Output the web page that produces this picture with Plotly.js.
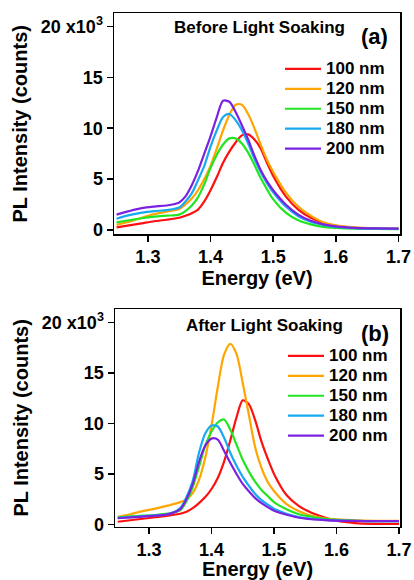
<!DOCTYPE html>
<html>
<head>
<meta charset="utf-8">
<script src="https://cdn.plot.ly/plotly-3.0.1.min.js"></script>
<style>html,body{margin:0;padding:0;background:#fff}#chart{width:414px;height:580px}</style>
</head>
<body>
<div id="chart"></div>
<script>
// Photon energy (eV)
const energy = [1.25, 1.27, 1.29, 1.31, 1.33, 1.35, 1.36, 1.37, 1.38, 1.39, 1.40, 1.41, 1.42, 1.43, 1.44, 1.45, 1.46, 1.47, 1.48, 1.49, 1.50, 1.52, 1.54, 1.56, 1.58, 1.60, 1.63, 1.66, 1.70];
const thicknesses = ['100 nm', '120 nm', '150 nm', '180 nm', '200 nm'];
const colors = ['#ff1010', '#ffa500', '#22e522', '#18aaf0', '#7b22e0'];

// PL intensity (x10^3 counts) - before light soaking
const before100 = [0.25, 0.45, 0.65, 0.85, 1.0, 1.2, 1.4, 1.65, 2.0, 2.8, 3.9, 5.2, 6.6, 7.7, 8.6, 9.3, 9.4, 8.9, 8.0, 6.6, 5.3, 3.3, 2.0, 1.2, 0.7, 0.4, 0.2, 0.13, 0.1];
const before120 = [0.5, 0.8, 1.2, 1.55, 1.8, 2.05, 2.5, 3.1, 3.9, 5.0, 6.3, 8.0, 9.8, 11.3, 12.3, 12.3, 11.4, 10.0, 8.4, 6.9, 5.7, 3.7, 2.3, 1.4, 0.75, 0.45, 0.25, 0.15, 0.12];
const before150 = [0.75, 0.95, 1.15, 1.3, 1.4, 1.5, 1.85, 2.4, 3.2, 4.5, 6.1, 7.4, 8.4, 9.0, 9.0, 8.5, 7.6, 6.4, 5.1, 4.0, 3.0, 1.7, 0.95, 0.55, 0.3, 0.2, 0.12, 0.1, 0.08];
const before180 = [1.1, 1.45, 1.7, 1.85, 1.95, 2.2, 2.8, 3.6, 4.9, 6.3, 8.2, 9.8, 11.1, 11.4, 10.8, 9.8, 8.5, 7.0, 5.7, 4.6, 3.7, 2.3, 1.35, 0.8, 0.5, 0.3, 0.18, 0.13, 0.1];
const before200 = [1.5, 1.85, 2.15, 2.3, 2.4, 2.7, 3.3, 4.4, 5.8, 7.5, 9.2, 11.1, 12.7, 12.6, 11.6, 10.3, 8.9, 7.3, 5.9, 4.8, 3.9, 2.5, 1.5, 0.9, 0.55, 0.35, 0.2, 0.15, 0.12];

// PL intensity (x10^3 counts) - after light soaking
const after100 = [0.25, 0.4, 0.55, 0.7, 0.85, 1.05, 1.25, 1.6, 2.1, 2.7, 3.5, 4.6, 6.2, 8.3, 10.6, 12.3, 11.9, 10.3, 8.2, 6.5, 5.0, 2.9, 1.8, 1.15, 0.7, 0.35, 0.12, 0.05, 0.03];
const after120 = [0.75, 1.0, 1.3, 1.55, 1.85, 2.2, 2.5, 3.1, 4.4, 6.6, 9.8, 13.6, 16.8, 17.9, 16.9, 14.0, 10.8, 7.6, 5.6, 4.2, 3.3, 2.0, 1.3, 0.85, 0.6, 0.5, 0.4, 0.35, 0.33];
const after150 = [0.7, 0.78, 0.85, 0.92, 1.05, 1.4, 2.3, 3.7, 5.7, 7.8, 9.2, 10.1, 10.4, 9.4, 7.9, 6.4, 5.2, 4.2, 3.4, 2.8, 2.2, 1.5, 1.0, 0.75, 0.55, 0.45, 0.35, 0.32, 0.3];
const after180 = [0.65, 0.72, 0.8, 0.88, 1.0, 1.6, 2.7, 4.3, 7.1, 9.0, 9.8, 9.7, 8.6, 7.1, 5.8, 4.7, 3.8, 3.0, 2.4, 1.95, 1.55, 1.05, 0.72, 0.55, 0.45, 0.38, 0.33, 0.3, 0.3];
const after200 = [0.6, 0.68, 0.76, 0.85, 0.98, 1.5, 2.5, 4.0, 6.2, 7.8, 8.5, 8.4, 7.3, 6.1, 5.0, 4.0, 3.25, 2.6, 2.1, 1.7, 1.35, 0.95, 0.65, 0.5, 0.42, 0.36, 0.33, 0.32, 0.32];

const yTickVals = [0, 5, 10, 15, 20];
const yTickText = ['0', '5', '10', '15', '20 x10<sup>3</sup>'];
const xTickVals = [1.3, 1.4, 1.5, 1.6, 1.7];

const beforeSeries = [before100, before120, before150, before180, before200];
const afterSeries = [after100, after120, after150, after180, after200];

const FONT = 'Liberation Sans, Arial, Helvetica, sans-serif';
const traces = [];
beforeSeries.forEach((ys, i) => traces.push({
  x: energy, y: ys, type: 'scatter', mode: 'lines',
  name: '<span style="font-size:17px">' + thicknesses[i] + '</span>',
  line: {color: colors[i], width: 2.2, shape: 'spline', smoothing: 0.8},
  xaxis: 'x', yaxis: 'y', legend: 'legend'
}));
afterSeries.forEach((ys, i) => traces.push({
  x: energy, y: ys, type: 'scatter', mode: 'lines',
  name: '<span style="font-size:17px">' + thicknesses[i] + '</span>',
  line: {color: colors[i], width: 2.2, shape: 'spline', smoothing: 0.8},
  xaxis: 'x2', yaxis: 'y2', legend: 'legend2'
}));

function xAxis(domain, range, anchor) {
  return {
    domain: domain, range: range, anchor: anchor,
    tickvals: xTickVals, ticktext: xTickVals.map(v => v.toFixed(1)),
    ticks: 'outside', ticklen: 6, tickwidth: 1.5, tickcolor: '#000',
    showline: true, linewidth: 1.5, linecolor: '#000', mirror: true,
    showgrid: false, zeroline: false,
    tickfont: {family: FONT, size: 18, color: '#000', weight: 'bold'},
    title: {text: 'Energy (eV)', font: {family: FONT, size: 20, color: '#000', weight: 'bold'}, standoff: 3}
  };
}
function yAxis(domain, range, anchor) {
  return {
    domain: domain, range: range, anchor: anchor,
    tickvals: yTickVals, ticktext: yTickText,
    ticks: 'outside', ticklen: 6, tickwidth: 1.5, tickcolor: '#000',
    showline: true, linewidth: 1.5, linecolor: '#000', mirror: true,
    showgrid: false, zeroline: false,
    tickfont: {family: FONT, size: 18, color: '#000', weight: 'bold'},
    title: {text: 'PL Intensity (counts)', font: {family: FONT, size: 20, color: '#000', weight: 'bold'}, standoff: 8}
  };
}

const legendCommon = {
  xanchor: 'left', yanchor: 'top', bgcolor: 'rgba(0,0,0,0)', borderwidth: 0,
  font: {family: FONT, size: 13, color: '#000', weight: 'bold'},
  itemwidth: 36, tracegroupgap: 0, traceorder: 'normal'
};

const layout = {
  width: 414, height: 580,
  margin: {l: 0, r: 0, t: 0, b: 0},
  paper_bgcolor: '#fff', plot_bgcolor: '#fff',
  showlegend: true,
  xaxis: xAxis([114/414, 400/414], [1.2459, 1.7024], 'y'),
  yaxis: yAxis([1 - 234.3/580, 1 - 13.3/580], [-0.43, 21.3], 'x'),
  xaxis2: xAxis([115/414, 400/414], [1.2456, 1.7016], 'y2'),
  yaxis2: yAxis([1 - 526.5/580, 1 - 309.3/580], [-0.22, 21.33], 'x2'),
  legend: Object.assign({x: 280/414, y: 1 - 54/580}, legendCommon),
  legend2: Object.assign({x: 283/414, y: 1 - 341/580}, legendCommon),
  annotations: [
    {text: 'Before Light Soaking', xref: 'paper', yref: 'paper', x: 259/414, y: 1 - 28/580, xanchor: 'center', yanchor: 'middle', showarrow: false, font: {family: FONT, size: 17, color: '#000', weight: 'bold'}},
    {text: '(a)', xref: 'paper', yref: 'paper', x: 374/414, y: 1 - 37/580, xanchor: 'center', yanchor: 'middle', showarrow: false, font: {family: FONT, size: 22, color: '#000', weight: 'bold'}},
    {text: 'After Light Soaking', xref: 'paper', yref: 'paper', x: 264/414, y: 1 - 325/580, xanchor: 'center', yanchor: 'middle', showarrow: false, font: {family: FONT, size: 17, color: '#000', weight: 'bold'}},
    {text: '(b)', xref: 'paper', yref: 'paper', x: 375/414, y: 1 - 333/580, xanchor: 'center', yanchor: 'middle', showarrow: false, font: {family: FONT, size: 22, color: '#000', weight: 'bold'}}
  ]
};

Plotly.newPlot('chart', traces, layout, {displayModeBar: false, staticPlot: true});
</script>
</body>
</html>
